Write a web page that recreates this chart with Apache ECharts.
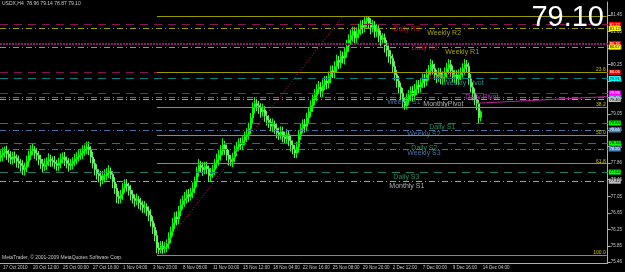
<!DOCTYPE html>
<html><head><meta charset="utf-8">
<script src="https://cdn.jsdelivr.net/npm/echarts@6/dist/echarts.min.js"></script>
<style>html,body{margin:0;padding:0;background:#000;}#c{width:625px;height:272px;}</style>
</head><body><div id="c"></div>
<script>
const symbol = 'USDX,H4';
const tickLabels = ['17 Oct 2010','20 Oct 12:00','25 Oct 00:00','27 Oct 16:00','1 Nov 04:00','3 Nov 20:00','8 Nov 08:00','11 Nov 00:00','15 Nov 12:00','18 Nov 04:00','22 Nov 16:00','25 Nov 08:00','29 Nov 20:00','2 Dec 12:00','7 Dec 00:00','9 Dec 16:00','14 Dec 04:00'];
const barsPerTick = 15;
const totalSlots = 304;
const yTickValues = [81.45,81.05,80.65,80.25,79.85,79.45,79.05,78.66,78.26,77.86,77.46,77.05,76.65,76.25,75.85,75.46];

const opens = [78.00,78.05,78.10,78.15,78.08,78.00,77.95,78.02,77.98,77.90,
77.85,77.80,77.70,77.75,77.90,78.05,78.15,78.20,78.10,78.05,
77.95,77.85,77.78,77.82,77.90,77.95,77.92,77.88,77.85,77.80,
77.86,77.95,78.00,77.92,77.85,77.80,77.84,77.90,77.95,78.00,
78.05,78.10,78.15,78.20,78.25,78.18,78.00,77.85,77.70,77.60,
77.55,77.45,77.55,77.55,77.62,77.66,77.58,77.40,77.25,77.05,
77.00,77.10,77.25,77.35,77.30,77.20,77.10,77.00,76.95,76.98,
76.90,76.85,76.78,76.80,76.70,76.60,76.45,76.30,76.10,75.80,
75.75,75.85,75.78,75.82,75.90,76.05,76.20,76.40,76.55,76.50,
76.70,76.85,76.95,77.00,77.10,77.05,77.15,77.25,77.40,77.65,
77.80,77.75,77.70,77.78,77.72,77.55,77.60,77.70,77.85,77.95,
78.05,78.15,78.30,78.20,78.05,77.95,77.90,78.00,78.15,78.25,
78.35,78.30,78.40,78.50,78.55,78.70,78.95,79.20,79.30,79.25,
79.20,79.10,79.15,79.00,78.90,78.85,78.75,78.80,78.70,78.60,
78.55,78.62,78.50,78.45,78.55,78.40,78.30,78.20,78.10,78.25,
78.55,78.70,78.80,78.75,78.95,79.10,79.25,79.40,79.50,79.65,
79.70,79.60,79.75,79.85,79.80,79.95,80.10,80.05,80.20,80.35,
80.30,80.45,80.40,80.55,80.70,80.85,80.95,81.05,80.90,81.00,
81.10,81.20,81.15,81.30,81.38,81.25,81.15,81.20,81.05,81.10,
80.95,80.85,80.90,80.70,80.60,80.45,80.40,80.20,80.00,79.85,
79.70,79.55,79.35,79.25,79.40,79.50,79.60,79.50,79.65,79.75,
79.70,79.80,79.90,79.85,80.00,80.10,80.25,80.15,80.00,79.95,
80.05,79.90,79.95,80.05,80.15,80.25,80.10,79.95,80.00,79.90,
80.00,80.05,80.15,80.25,80.20,79.90,79.70,79.55,79.40,79.30,
78.96];
const highs = [78.17,78.24,78.26,78.28,78.18,78.15,78.13,78.14,78.07,78.04,
77.96,77.93,77.87,78.04,78.16,78.29,78.33,78.27,78.22,78.15,
78.06,77.96,77.97,78.00,78.10,78.06,78.02,78.03,77.94,77.99,
78.09,78.12,78.13,78.02,77.98,77.96,78.00,78.08,78.12,78.20,
78.21,78.29,78.31,78.38,78.38,78.27,78.13,77.96,77.83,77.71,
77.67,77.67,77.71,77.74,77.81,77.75,77.66,77.52,77.36,77.18,
77.21,77.38,77.47,77.47,77.38,77.33,77.20,77.10,77.12,77.06,
77.02,76.95,76.94,76.88,76.81,76.74,76.57,76.40,76.23,75.94,
75.97,75.97,75.94,76.01,76.18,76.32,76.53,76.67,76.69,76.82,
76.99,77.07,77.16,77.22,77.23,77.26,77.39,77.53,77.77,77.96,
77.91,77.88,77.89,77.89,77.80,77.74,77.82,77.96,78.09,78.18,
78.30,78.46,78.39,78.31,78.18,78.06,78.11,78.29,78.37,78.46,
78.47,78.51,78.62,78.70,78.84,79.07,79.33,79.46,79.41,79.37,
79.31,79.30,79.24,79.12,79.02,78.94,78.94,78.89,78.82,78.72,
78.75,78.74,78.62,78.69,78.64,78.53,78.41,78.30,78.38,78.66,
78.83,78.92,78.93,79.08,79.22,79.38,79.52,79.65,79.77,79.85,
79.82,79.89,79.97,79.97,80.08,80.22,80.23,80.33,80.49,80.46,
80.59,80.56,80.67,80.85,80.98,81.10,81.17,81.16,81.15,81.24,
81.32,81.33,81.40,81.43,81.42,81.37,81.33,81.30,81.23,81.20,
81.07,81.01,81.00,80.84,80.71,80.59,80.50,80.33,80.12,79.97,
79.81,79.68,79.45,79.53,79.63,79.72,79.73,79.78,79.87,79.87,
79.92,80.03,80.02,80.13,80.24,80.38,80.35,80.27,80.12,80.17,
80.16,80.09,80.18,80.29,80.38,80.36,80.22,80.12,80.11,80.13,
80.18,80.28,80.38,80.36,80.30,80.02,79.82,79.67,79.51,79.39,
79.14];
const lows = [77.89,77.91,77.99,77.93,77.87,77.83,77.82,77.86,77.75,77.73,
77.65,77.57,77.56,77.64,77.77,77.93,78.05,77.96,77.92,77.81,
77.72,77.62,77.67,77.69,77.79,77.77,77.77,77.72,77.67,77.67,
77.73,77.85,77.79,77.73,77.65,77.69,77.71,77.79,77.83,77.90,
77.94,77.96,78.04,78.07,78.05,77.86,77.73,77.56,77.46,77.39,
77.29,77.35,77.39,77.44,77.49,77.47,77.25,77.11,76.89,76.87,
76.88,76.97,77.14,77.17,77.07,76.95,76.88,76.80,76.84,76.75,
76.71,76.65,76.64,76.57,76.45,76.32,76.14,75.96,75.67,75.65,
75.67,75.66,75.68,75.70,75.78,75.92,76.08,76.26,76.35,76.37,
76.57,76.74,76.80,76.88,76.91,76.95,77.01,77.13,77.28,77.53,
77.62,77.55,77.59,77.59,77.42,77.41,77.50,77.57,77.73,77.80,
77.92,78.05,78.06,77.92,77.80,77.78,77.76,77.88,78.03,78.14,
78.18,78.17,78.29,78.37,78.43,78.56,78.83,79.06,79.12,79.05,
78.96,78.99,78.86,78.77,78.71,78.63,78.61,78.57,78.46,78.42,
78.43,78.36,78.32,78.32,78.27,78.14,78.07,77.98,77.98,78.11,
78.42,78.59,78.60,78.63,78.81,78.98,79.10,79.27,79.36,79.53,
79.46,79.46,79.63,79.65,79.67,79.80,79.92,79.91,80.07,80.14,
80.16,80.27,80.25,80.42,80.56,80.73,80.80,80.76,80.76,80.88,
80.97,81.00,81.03,81.15,81.12,80.98,81.03,80.90,80.92,80.79,
80.69,80.73,80.54,80.44,80.29,80.25,80.04,79.86,79.69,79.55,
79.39,79.19,79.15,79.16,79.27,79.36,79.35,79.38,79.51,79.55,
79.57,79.68,79.69,79.73,79.86,79.98,80.00,79.87,79.80,79.83,
79.77,79.76,79.83,79.91,80.02,79.95,79.82,79.81,79.77,79.75,
79.87,79.93,80.00,80.06,79.76,79.57,79.38,79.26,79.14,78.83,
78.87];
const closes = [78.05,78.10,78.15,78.08,78.00,77.95,78.02,77.98,77.90,77.85,
77.80,77.70,77.75,77.90,78.05,78.15,78.20,78.10,78.05,77.95,
77.85,77.78,77.82,77.90,77.95,77.92,77.88,77.85,77.80,77.86,
77.95,78.00,77.92,77.85,77.80,77.84,77.90,77.95,78.00,78.05,
78.10,78.15,78.20,78.25,78.18,78.00,77.85,77.70,77.60,77.55,
77.45,77.55,77.55,77.62,77.66,77.58,77.40,77.25,77.05,77.00,
77.10,77.25,77.35,77.30,77.20,77.10,77.00,76.95,76.98,76.90,
76.85,76.78,76.80,76.70,76.60,76.45,76.30,76.10,75.80,75.75,
75.85,75.78,75.82,75.90,76.05,76.20,76.40,76.55,76.50,76.70,
76.85,76.95,77.00,77.10,77.05,77.15,77.25,77.40,77.65,77.80,
77.75,77.70,77.78,77.72,77.55,77.60,77.70,77.85,77.95,78.05,
78.15,78.30,78.20,78.05,77.95,77.90,78.00,78.15,78.25,78.35,
78.30,78.40,78.50,78.55,78.70,78.95,79.20,79.30,79.25,79.20,
79.10,79.15,79.00,78.90,78.85,78.75,78.80,78.70,78.60,78.55,
78.62,78.50,78.45,78.55,78.40,78.30,78.20,78.10,78.25,78.55,
78.70,78.80,78.75,78.95,79.10,79.25,79.40,79.50,79.65,79.70,
79.60,79.75,79.85,79.80,79.95,80.10,80.05,80.20,80.35,80.30,
80.45,80.40,80.55,80.70,80.85,80.95,81.05,80.90,81.00,81.10,
81.20,81.15,81.30,81.38,81.25,81.15,81.20,81.05,81.10,80.95,
80.85,80.90,80.70,80.60,80.45,80.40,80.20,80.00,79.85,79.70,
79.55,79.35,79.25,79.40,79.50,79.60,79.50,79.65,79.75,79.70,
79.80,79.90,79.85,80.00,80.10,80.25,80.15,80.00,79.95,80.05,
79.90,79.95,80.05,80.15,80.25,80.10,79.95,80.00,79.90,80.00,
80.05,80.15,80.25,80.20,79.90,79.70,79.55,79.40,79.30,78.96,
79.10];

// pivot levels
const levelNames  = ['Daily R3','Weekly R2','Daily R2','Weekly R1','Daily R1','Weekly Pivot','Daily Pivot','Weekly S1','MonthlyPivot','Daily S1','Weekly S2','Daily S2','Weekly S3','Daily S3','Monthly S1'];
const levelPrices = [81.22, 81.12, 80.76, 80.67, 80.06, 79.91, 79.56, 79.45, 79.40, 78.83, 78.66, 78.34, 78.20, 77.64, 77.42];
const levelKinds  = ['dR','wR','dR','wR','dR','wP','dP','wS','mP','dS','wS','dS','wS','dS','mP'];
const levelLabelBars = [196, 213, 205, 222, 214, 221, 232, 193, 211, 214, 203, 205, 203, 196, 194];

// fibonacci retracement (low -> high)
const fibLevels = [0.0, 23.6, 38.2, 50.0, 61.8, 100.0];
const fibHigh = 81.425, fibLow = 75.63;
const fibStartBar = 78, fibTopBar = 171;

// sloped line near the end
const trendFrom = [238, 79.31], trendTo = [303, 79.47];

const lineStyleOf = {
  dR:{color:'#8b1450', type:[8,6]},
  wR:{color:'#a0a000', type:[6,3,1,3]},
  wP:{color:'#008080', type:[8,6]},
  dP:{color:'#9a0a9a', type:[8,6]},
  wS:{color:'#4a6fa0', type:[6,3,1,3]},
  mP:{color:'#a0a0a0', type:[6,3,1,3]},
  dS:{color:'#1f7a66', type:[8,6]}
};
const textColorOf = {dR:'#e0143c', wR:'#c8c800', wP:'#3cb0b0', dP:'#e040e0', wS:'#5a8cc8', mP:'#d8d8d8', dS:'#2eb070'};
const tagColorOf = {dR:'#ff0000', wR:'#ffff00', wP:'#00ffff', dP:'#ff00ff', wS:'#4682b4', mP:'#c0c0c0', dS:'#00ff00'};

const cats = [];
for (let k = 0; k < totalSlots; k++) cats.push(k % barsPerTick === 0 && tickLabels[k / barsPerTick] ? tickLabels[k / barsPerTick] : '');

const candleData = closes.map((c, i) => [opens[i], c, lows[i], highs[i]]);
const last = closes.length - 1;

const tagLabel = (color, txtColor) => ({
  show: true, position: 'end', distance: 1, fontSize: 4, lineHeight: 5,
  backgroundColor: color, color: txtColor, padding: [0, 1],
  formatter: p => p.value.toFixed(2)
});

const levelMarks = levelPrices.map((p, i) => {
  const k = levelKinds[i];
  const ls = Object.assign({width: 1}, lineStyleOf[k]);
  if (levelNames[i] === 'Daily R2') { ls.type = [2, 1]; ls.width = 2; ls.color = '#8a1a6a'; }
  const tc = tagColorOf[k];
  return {yAxis: p, lineStyle: ls, label: tagLabel(tc, (k === 'dR' || k === 'wS' || k === 'dP') ? '#fff' : '#000')};
});

const fibMarks = fibLevels.map(l => {
  const p = fibHigh - (fibHigh - fibLow) * l / 100;
  return [
    {coord: [fibStartBar, p], lineStyle: {color: '#9a9a00', type: 'solid', width: 1},
     label: {show: l > 0, position: 'insideEndTop', distance: [1, 0], formatter: l.toFixed(1), color: '#c8c800', fontSize: 5}},
    {coord: [totalSlots - 1, p]}
  ];
});
fibMarks.push([
  {coord: [fibStartBar, fibLow], lineStyle: {color: '#d0186a', type: [1, 2], width: 1}, label: {show: false}},
  {coord: [fibTopBar, fibHigh]}
]);
fibMarks.push([
  {coord: trendFrom, lineStyle: {color: '#c020a0', type: 'solid', width: 1}, label: {show: false}},
  {coord: trendTo}
]);

const chart = echarts.init(document.getElementById('c'), null, {renderer: 'canvas'});
chart.setOption({
  backgroundColor: '#000',
  animation: false,
  title: [
    {text: symbol + '  ' + [opens[last], highs[last], lows[last], closes[last]].map(v => v.toFixed(2)).join(' '),
     left: 2, top: 1, padding: 0, textStyle: {color: '#c8c8c8', fontSize: 5, fontWeight: 'normal', fontFamily: 'Liberation Sans'}},
    {text: closes[last].toFixed(2), right: 21, top: 3, padding: 0,
     textStyle: {color: '#ffffff', fontSize: 29, fontWeight: 'normal', fontFamily: 'Liberation Sans'}},
    {text: 'MetaTrader, © 2001-2009 MetaQuotes Software Corp.', left: 2, top: 255, padding: 0,
     textStyle: {color: '#c8c8c8', fontSize: 5, fontWeight: 'normal', fontFamily: 'Liberation Sans'}}
  ],
  grid: {left: 0, right: 17, top: 2, bottom: 9, containLabel: false},
  xAxis: {
    type: 'category', data: cats, boundaryGap: true,
    axisLine: {lineStyle: {color: '#b0b0b0', width: 1}},
    axisTick: {alignWithLabel: true, interval: i => i % barsPerTick === 0, length: 3, lineStyle: {color: '#b0b0b0'}},
    axisLabel: {interval: i => i % barsPerTick === 0, align: 'left', margin: 2, padding: [0, 0, 0, 2],
      fontSize: 4.5, color: '#c8c8c8', fontFamily: 'Liberation Sans'},
    splitLine: {show: false}
  },
  yAxis: {
    type: 'value', position: 'right', min: 75.436, max: 81.765, scale: true,
    splitLine: {show: false},
    axisLine: {show: true, lineStyle: {color: '#b0b0b0', width: 1}},
    axisTick: {show: true, customValues: yTickValues, length: 3, lineStyle: {color: '#b0b0b0'}},
    axisLabel: {customValues: yTickValues, formatter: v => v.toFixed(2), margin: 3,
      fontSize: 4.5, color: '#c8c8c8', fontFamily: 'Liberation Sans'}
  },
  series: [
    {
      type: 'line', data: [], silent: true, z: 1,
      markLine: {symbol: 'none', silent: true, animation: false, data: levelMarks}
    },
    {
      type: 'line', data: [], silent: true, z: 1,
      markLine: {symbol: 'none', silent: true, animation: false, data: fibMarks}
    },
    {
      type: 'candlestick', data: candleData, barWidth: 1.4, z: 3,
      itemStyle: {color: '#00c000', color0: '#c8ffc8', borderColor: '#00ff00', borderColor0: '#60f060', borderWidth: 1},
      markLine: {symbol: 'none', silent: true, animation: false,
        data: [{yAxis: closes[last], lineStyle: {opacity: 0}, label: tagLabel('#e8e8e8', '#000')}]}
    },
    {
      type: 'scatter', symbolSize: 1, silent: true, z: 4,
      itemStyle: {color: 'rgba(0,0,0,0)'},
      data: levelNames.map((n, i) => ({
        value: [levelLabelBars[i], levelPrices[i]], name: n,
        label: {color: textColorOf[levelKinds[i]]}
      })),
      label: {show: true, position: 'right', distance: 0, offset: [0, 4.5], formatter: p => p.name,
        fontSize: 7, fontFamily: 'Liberation Sans'}
    }
  ]
});
</script></body></html>
